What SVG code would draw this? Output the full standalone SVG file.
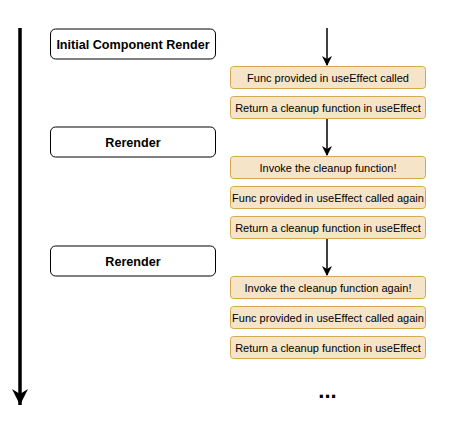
<svg xmlns="http://www.w3.org/2000/svg" width="450" height="421" viewBox="0 0 450 421">
<defs>
<style>
.phase rect{fill:#ffffff;stroke:#000000;stroke-width:1}
.phase text{font-family:"Liberation Sans",Arial,sans-serif;font-size:12.6px;font-weight:bold;fill:#000;text-anchor:middle}
.step rect{fill:#f5e4c8;stroke:#d6a84e;stroke-width:1}
.step text{font-family:"Liberation Sans",Arial,sans-serif;font-size:11px;fill:#000;text-anchor:middle}
.conn{stroke:#000;fill:none}
</style>
<marker id="ah" markerWidth="10" markerHeight="10" refX="9" refY="5" orient="auto" markerUnits="userSpaceOnUse">
<path d="M0,0 L10,5 L0,10 L3,5 Z" fill="#000"/>
</marker>
<marker id="ahBig" markerWidth="18" markerHeight="18" refX="16" refY="8" orient="auto" markerUnits="userSpaceOnUse">
<path d="M0,0 L16,8 L0,16 L5,8 Z" fill="#000"/>
</marker>
</defs>
<rect width="450" height="421" fill="#ffffff"/>
<g id="connectors">
<line class="conn" x1="20" y1="28" x2="20" y2="405" stroke-width="3.5" marker-end="url(#ahBig)"/>
<line class="conn" x1="327" y1="28" x2="327" y2="65" stroke-width="1.5" marker-end="url(#ah)"/>
<line class="conn" x1="327" y1="118" x2="327" y2="155" stroke-width="1.5" marker-end="url(#ah)"/>
<line class="conn" x1="327" y1="238" x2="327" y2="275" stroke-width="1.5" marker-end="url(#ah)"/>
</g>
<g id="initial-render" class="phase"><rect x="50.5" y="29" width="165" height="30" rx="5"/><text x="133" y="48.5">Initial Component Render</text></g>
<g id="rerender-1" class="phase"><rect x="50.5" y="127" width="165" height="30" rx="5"/><text x="133" y="146.5">Rerender</text></g>
<g id="rerender-2" class="phase"><rect x="50.5" y="246" width="165" height="30" rx="5"/><text x="133" y="265.5">Rerender</text></g>
<g id="step-1" class="step"><rect x="230.5" y="66.5" width="195" height="22" rx="3"/><text x="328" y="81.5">Func provided in useEffect called</text></g>
<g id="step-2" class="step"><rect x="230.5" y="96.5" width="195" height="22" rx="3"/><text x="328" y="111.5">Return a cleanup function in useEffect</text></g>
<g id="step-3" class="step"><rect x="230.5" y="156.5" width="195" height="22" rx="3"/><text x="328" y="171.5">Invoke the cleanup function!</text></g>
<g id="step-4" class="step"><rect x="230.5" y="186.5" width="195" height="22" rx="3"/><text x="328" y="201.5">Func provided in useEffect called again</text></g>
<g id="step-5" class="step"><rect x="230.5" y="216.5" width="195" height="22" rx="3"/><text x="328" y="231.5">Return a cleanup function in useEffect</text></g>
<g id="step-6" class="step"><rect x="230.5" y="276.5" width="195" height="22" rx="3"/><text x="328" y="291.5">Invoke the cleanup function again!</text></g>
<g id="step-7" class="step"><rect x="230.5" y="306.5" width="195" height="22" rx="3"/><text x="328" y="321.5">Func provided in useEffect called again</text></g>
<g id="step-8" class="step"><rect x="230.5" y="336.5" width="195" height="22" rx="3"/><text x="328" y="351.5">Return a cleanup function in useEffect</text></g>
<g id="ellipsis"><text x="327.5" y="397.5" font-family="'Liberation Sans',Arial,sans-serif" font-size="22" font-weight="bold" text-anchor="middle" fill="#000">...</text></g>
</svg>
